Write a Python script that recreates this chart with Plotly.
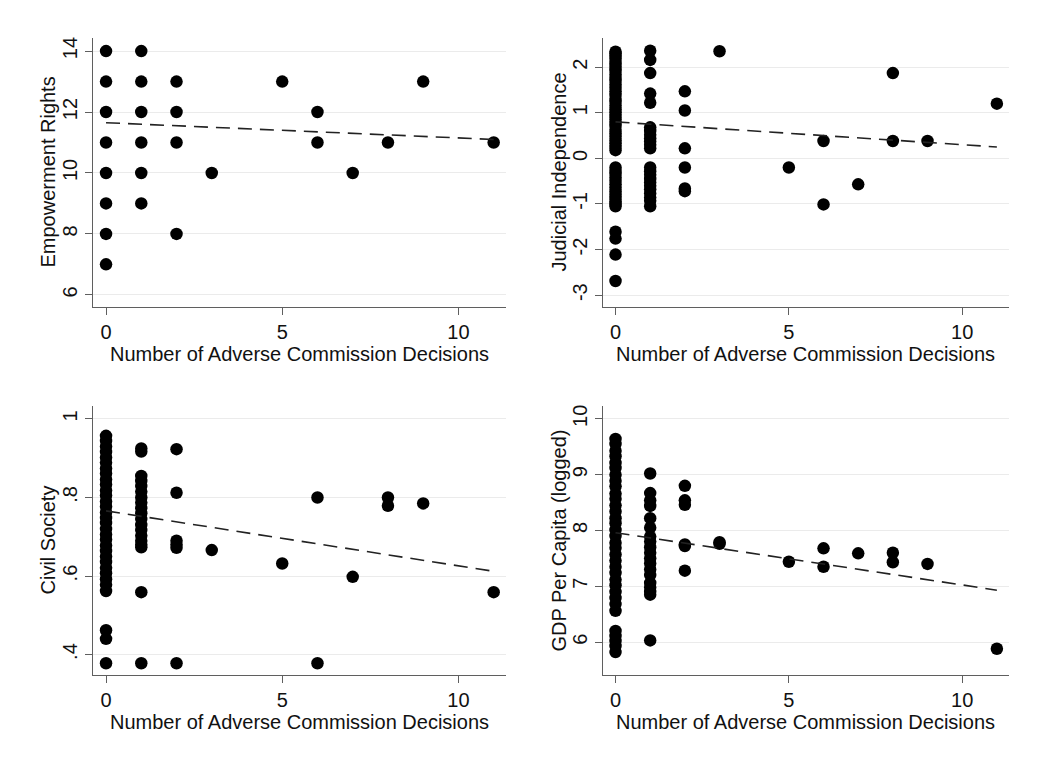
import plotly.graph_objects as go

# ---------------- data ----------------
x_ticks = [0, 5, 10]
x_title = "Number of Adverse Commission Decisions"

# Panel 1: Empowerment Rights
emp_x = [0, 0, 0, 0, 0, 0, 0, 0,
         1, 1, 1, 1, 1, 1,
         2, 2, 2, 2,
         3, 5, 6, 6, 7, 8, 9, 11]
emp_y = [14, 13, 12, 11, 10, 9, 8, 7,
         14, 13, 12, 11, 10, 9,
         13, 12, 11, 8,
         10, 13, 12, 11, 10, 11, 13, 11]
emp_fit = [11.65, 11.10]
emp_ticks = [6, 8, 10, 12, 14]
emp_ticktext = ["6", "8", "10", "12", "14"]

# Panel 2: Judicial Independence
jud_at0 = [2.34, 2.3, 2.25, 2.19, 2.12, 2.05, 1.98, 1.92, 1.84, 1.77, 1.7,
           1.62, 1.55, 1.47, 1.39, 1.31, 1.24, 1.16, 1.08, 1.01, 0.93, 0.86,
           0.78, 0.71, 0.63, 0.55, 0.48, 0.4, 0.33, 0.25, 0.18,
           -0.2, -0.27, -0.34, -0.42, -0.49, -0.57, -0.64, -0.72, -0.79,
           -0.87, -0.94, -1.0, -1.05,
           -1.61, -1.76, -2.11, -2.69]
jud_at1 = [2.36, 2.16, 1.87, 1.42, 1.22,
           0.68, 0.6, 0.52, 0.44, 0.37, 0.3, 0.22,
           -0.2, -0.28, -0.36, -0.45, -0.53, -0.6, -0.68, -0.77, -0.86,
           -0.93, -1.05]
jud_rest_x = [2, 2, 2, 2, 2, 2, 3, 5, 6, 6, 7, 8, 8, 9, 11]
jud_rest_y = [1.47, 1.05, 0.22, -0.2, -0.66, -0.72, 2.35, -0.2, 0.38,
              -1.01, -0.57, 1.87, 0.38, 0.38, 1.2]
jud_fit = [0.80, 0.25]
jud_ticks = [-3, -2, -1, 0, 1, 2]
jud_ticktext = ["-3", "-2", "-1", "0", "1", "2"]

# Panel 3: Civil Society
civ_at0 = [0.957, 0.944, 0.93, 0.916, 0.902, 0.889, 0.874, 0.861, 0.846,
           0.833, 0.818, 0.805, 0.79, 0.777, 0.762, 0.748, 0.735, 0.72,
           0.706, 0.693, 0.678, 0.664, 0.65, 0.636, 0.621, 0.607, 0.592,
           0.578, 0.562, 0.462, 0.44, 0.378]
civ_at1 = [0.925, 0.917, 0.855, 0.842, 0.829, 0.815, 0.8, 0.787, 0.773,
           0.76, 0.745, 0.73, 0.717, 0.703, 0.69, 0.68, 0.673, 0.559, 0.378]
civ_rest_x = [2, 2, 2, 2, 2, 2, 3, 5, 6, 6, 7, 8, 8, 9, 11]
civ_rest_y = [0.923, 0.812, 0.69, 0.68, 0.672, 0.378, 0.666, 0.632, 0.80,
              0.378, 0.598, 0.80, 0.779, 0.785, 0.559]
civ_fit = [0.766, 0.612]
civ_ticks = [0.4, 0.6, 0.8, 1.0]
civ_ticktext = [".4", ".6", ".8", "1"]

# Panel 4: GDP Per Capita (logged)
gdp_at0 = [9.64, 9.55, 9.43, 9.33, 9.21, 9.12, 9.0, 8.89, 8.79, 8.66, 8.57,
           8.45, 8.34, 8.22, 8.13, 8.01, 7.9, 7.78, 7.69, 7.57, 7.46, 7.35,
           7.24, 7.12, 7.02, 6.9, 6.79, 6.68, 6.56,
           6.2, 6.11, 6.02, 5.93, 5.82]
gdp_at1 = [9.02, 8.67, 8.54, 8.44, 8.22, 8.05, 7.89, 7.8, 7.7, 7.6, 7.5,
           7.41, 7.3, 7.2, 7.06, 6.98, 6.9, 6.85, 6.03]
gdp_rest_x = [2, 2, 2, 2, 2, 2, 3, 3, 5, 6, 6, 7, 8, 8, 9, 11]
gdp_rest_y = [8.8, 8.54, 8.46, 7.75, 7.72, 7.28, 7.79, 7.76, 7.44, 7.68,
              7.35, 7.59, 7.6, 7.43, 7.4, 5.88]
gdp_fit = [7.96, 6.93]
gdp_ticks = [6, 7, 8, 9, 10]
gdp_ticktext = ["6", "7", "8", "9", "10"]

fit_x = [0, 11]

panels = [
    ("Empowerment Rights", emp_x, emp_y, emp_fit, emp_ticks, emp_ticktext, [5.6, 14.43]),
    ("Judicial Independence",
     [0] * len(jud_at0) + [1] * len(jud_at1) + jud_rest_x,
     jud_at0 + jud_at1 + jud_rest_y, jud_fit, jud_ticks, jud_ticktext, [-3.26, 2.64]),
    ("Civil Society",
     [0] * len(civ_at0) + [1] * len(civ_at1) + civ_rest_x,
     civ_at0 + civ_at1 + civ_rest_y, civ_fit, civ_ticks, civ_ticktext, [0.348, 1.033]),
    ("GDP Per Capita (logged)",
     [0] * len(gdp_at0) + [1] * len(gdp_at1) + gdp_rest_x,
     gdp_at0 + gdp_at1 + gdp_rest_y, gdp_fit, gdp_ticks, gdp_ticktext, [5.41, 10.23]),
]

# ---------------- layout ----------------
W, H = 1051, 770
x_px = [(93, 506), (602.7, 1009)]
y_px = [(38, 307), (406, 675)]
x_domains = [[a / W, b / W] for a, b in x_px]
y_domains = [[1 - b / H, 1 - a / H] for a, b in y_px]
ytitle_px = [47, 558]          # centre of rotated y titles
xtitle_offset = 46.5           # px below x axis line

FONT = "Liberation Sans, Arial, Helvetica, sans-serif"
AXCOL = "#5f5f5f"
TXT = "#111111"

fig = go.Figure()
layout = dict(
    width=W, height=H, autosize=False,
    margin=dict(l=0, r=0, t=0, b=0),
    paper_bgcolor="white", plot_bgcolor="white",
    showlegend=False,
    font=dict(family=FONT, size=20, color=TXT),
)
annotations = []

for i, (ytitle, xs, ys, fit, yt, ytt, yr) in enumerate(panels):
    n = i + 1
    sfx = "" if n == 1 else str(n)
    col = i % 2
    row = i // 2
    fig.add_trace(go.Scatter(
        x=xs, y=ys, mode="markers",
        marker=dict(size=12.5, color="black", line=dict(width=0)),
        xaxis="x" + sfx, yaxis="y" + sfx, hoverinfo="x+y",
    ))
    fig.add_trace(go.Scatter(
        x=fit_x, y=fit, mode="lines",
        line=dict(color="#222222", width=1.6, dash="14px,8px"),
        xaxis="x" + sfx, yaxis="y" + sfx, hoverinfo="skip",
    ))
    layout["xaxis" + sfx] = dict(
        domain=x_domains[col], anchor="y" + sfx, range=[-0.37, 11.35],
        showline=True, linecolor=AXCOL, linewidth=1.3, mirror=False,
        ticks="outside", ticklen=7, tickwidth=1.3, tickcolor=AXCOL,
        tickvals=x_ticks, showgrid=False, zeroline=False,
        tickfont=dict(family=FONT, size=20, color=TXT),
        fixedrange=True,
    )
    layout["yaxis" + sfx] = dict(
        domain=y_domains[row], anchor="x" + sfx, range=yr,
        showline=True, linecolor=AXCOL, linewidth=1.3,
        ticks="outside", ticklen=7, tickwidth=1.3, tickcolor=AXCOL,
        tickvals=yt, ticktext=ytt, tickangle=-90,
        showgrid=True, gridcolor="#ebebeb", gridwidth=1, zeroline=False,
        tickfont=dict(family=FONT, size=20, color=TXT),
        fixedrange=True,
    )
    # axis titles
    annotations.append(dict(
        text=x_title, xref="paper", yref="paper",
        x=(x_px[col][0] + x_px[col][1]) / 2 / W,
        y=1 - (y_px[row][1] + xtitle_offset) / H,
        xanchor="center", yanchor="middle", showarrow=False,
        font=dict(family=FONT, size=20, color=TXT),
    ))
    annotations.append(dict(
        text=ytitle, xref="paper", yref="paper",
        x=ytitle_px[col] / W,
        y=1 - (y_px[row][0] + y_px[row][1]) / 2 / H,
        xanchor="center", yanchor="middle", textangle=-90, showarrow=False,
        font=dict(family=FONT, size=20, color=TXT),
    ))

layout["annotations"] = annotations
fig.update_layout(**layout)
fig.write_html("out.html", config={"displayModeBar": False},
               post_script="document.body.style.margin='0';")
